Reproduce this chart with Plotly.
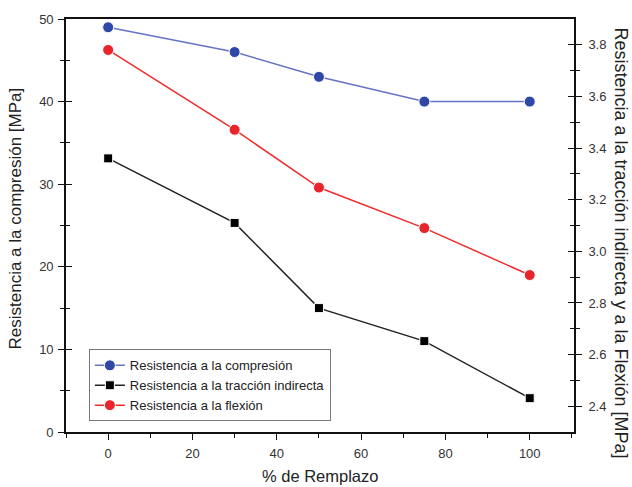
import plotly.graph_objects as go

reemplazo = [0, 30, 50, 75, 100]
compresion = [49, 46, 43, 40, 40]
traccion = [3.36, 3.11, 2.78, 2.652, 2.431]
flexion = [3.78, 3.471, 3.247, 3.09, 2.908]

names = ["Resistencia a la compresión", "Resistencia a la tracción indirecta", "Resistencia a la flexión"]

FONT = "Liberation Sans, Arial, sans-serif"
X_RANGE = [-10, 110.5]
Y1_RANGE = [0, 50]
Y2_RANGE = [2.3, 3.9]

fig = go.Figure()
fig.add_trace(go.Scatter(x=reemplazo, y=compresion, name=names[0], mode="lines+markers",
                         line=dict(color="#6573c4", width=1.5),
                         marker=dict(symbol="circle", size=11, color="#2f48a8",
                                     line=dict(color="white", width=1)),
                         xaxis="x", yaxis="y"))
fig.add_trace(go.Scatter(x=reemplazo, y=traccion, name=names[1], mode="lines+markers",
                         line=dict(color="#222222", width=1.5),
                         marker=dict(symbol="square", size=9, color="#000000",
                                     line=dict(color="white", width=1)),
                         xaxis="x", yaxis="y2"))
fig.add_trace(go.Scatter(x=reemplazo, y=flexion, name=names[2], mode="lines+markers",
                         line=dict(color="#ee2b2b", width=1.5),
                         marker=dict(symbol="circle", size=11, color="#e8252a",
                                     line=dict(color="white", width=1)),
                         xaxis="x", yaxis="y2"))

# invisible traces to create overlay axes for inner half of crossing ticks
for xa, ya in [("x2", "y3"), ("x2", "y4")]:
    fig.add_trace(go.Scatter(x=[None], y=[None], xaxis=xa, yaxis=ya, showlegend=False,
                             hoverinfo="skip", mode="markers"))

tickfont = dict(family=FONT, size=13, color="#333333")
axline = dict(showline=True, linecolor="#111111", linewidth=1.6, showgrid=False, zeroline=False)

fig.update_layout(
    width=632, height=487,
    margin=dict(l=66, r=58, t=16, b=55),
    paper_bgcolor="white", plot_bgcolor="white",
    font=dict(family=FONT, color="#222222"),
    showlegend=True,
    legend=dict(x=0.045, y=0.2, xanchor="left", yanchor="top",
                bordercolor="#777777", borderwidth=1, bgcolor="white",
                font=dict(family=FONT, size=13, color="#222222"),
                tracegroupgap=0, itemwidth=30),
    xaxis=dict(range=X_RANGE, tickmode="array", tickvals=[0, 20, 40, 60, 80, 100],
               ticks="outside", ticklen=6, tickwidth=1.4, tickcolor="#111111",
               ticklabelstandoff=3,
               minor=dict(ticks="outside", ticklen=4, tickvals=[-10, 10, 30, 50, 70, 90, 110],
                          tickcolor="#111111", tickwidth=1.2),
               mirror=True, tickfont=tickfont, **axline),
    xaxis2=dict(range=X_RANGE, overlaying="x", anchor="y3", showticklabels=False,
                ticks="", showline=False, showgrid=False, zeroline=False),
    yaxis=dict(range=Y1_RANGE, tickvals=[0, 10, 20, 30, 40, 50],
               ticks="outside", ticklen=6, tickwidth=1.4, tickcolor="#111111",
               ticklabelstandoff=2,
               minor=dict(ticks="outside", ticklen=4, tickvals=[5, 15, 25, 35, 45],
                          tickcolor="#111111", tickwidth=1.2),
               tickfont=tickfont, **axline),
    yaxis2=dict(range=Y2_RANGE, overlaying="y", side="right", anchor="x",
                tickvals=[2.4, 2.6, 2.8, 3.0, 3.2, 3.4, 3.6, 3.8], tickformat=".1f",
                ticks="outside", ticklen=6, tickwidth=1.4, tickcolor="#111111",
                ticklabelstandoff=4,
                minor=dict(ticks="outside", ticklen=4, tickvals=[2.5, 2.7, 2.9, 3.1, 3.3, 3.5, 3.7],
                           tickcolor="#111111", tickwidth=1.2),
                tickfont=tickfont, **axline),
    yaxis3=dict(range=Y1_RANGE, overlaying="y", anchor="x2", side="left", ticks="inside",
                ticklen=6, tickwidth=1.4, tickcolor="#111111", tickvals=[10, 20, 30, 40],
                showticklabels=False, showline=False, showgrid=False, zeroline=False,
                minor=dict(ticks="inside", ticklen=4, tickvals=[5, 15, 25, 35, 45],
                           tickcolor="#111111", tickwidth=1.2)),
    yaxis4=dict(range=Y2_RANGE, overlaying="y", anchor="x2", side="right", ticks="inside",
                ticklen=6, tickwidth=1.4, tickcolor="#111111",
                tickvals=[2.4, 2.6, 2.8, 3.0, 3.2, 3.4, 3.6, 3.8],
                showticklabels=False, showline=False, showgrid=False, zeroline=False,
                minor=dict(ticks="inside", ticklen=4, tickvals=[2.5, 2.7, 2.9, 3.1, 3.3, 3.5, 3.7],
                           tickcolor="#111111", tickwidth=1.2)),
    annotations=[
        dict(text="Resistencia a la compresión [MPa]", xref="paper", yref="paper",
             x=-0.1004, y=0.517, xanchor="center", yanchor="middle", textangle=-90,
             showarrow=False, font=dict(family=FONT, size=17, color="#222222")),
        dict(text="Resistencia a la tracción indirecta y a la Flexión [MPa]", xref="paper", yref="paper",
             x=1.0926, y=0.459, xanchor="center", yanchor="middle", textangle=90,
             showarrow=False, font=dict(family=FONT, size=18, color="#222222")),
        dict(text="% de Remplazo", xref="paper", yref="paper",
             x=0.5, y=-0.106, xanchor="center", yanchor="middle",
             showarrow=False, font=dict(family=FONT, size=16.5, color="#222222")),
    ],
)

fig.write_html("out.html", config={"displayModeBar": False},
               post_script="document.body.style.margin='0';document.body.style.overflow='hidden';")
